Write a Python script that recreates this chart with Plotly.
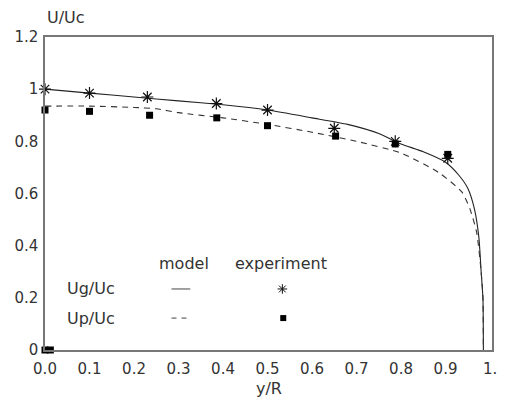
import plotly.graph_objects as go

# model curves
ug_model_x = [0.0, 0.1, 0.2, 0.3, 0.4, 0.5, 0.6, 0.68, 0.75, 0.8, 0.85, 0.9, 0.93, 0.95, 0.965, 0.975, 0.98, 0.984, 0.985]
ug_model_y = [1.0, 0.985, 0.97, 0.955, 0.94, 0.92, 0.89, 0.865, 0.83, 0.79, 0.76, 0.72, 0.67, 0.62, 0.54, 0.43, 0.3, 0.2, 0.0]
up_model_x = [0.0, 0.1, 0.2, 0.25, 0.3, 0.4, 0.5, 0.6, 0.7, 0.8, 0.885, 0.937, 0.955, 0.97, 0.98, 0.984, 0.985]
up_model_y = [0.935, 0.935, 0.93, 0.925, 0.91, 0.89, 0.865, 0.835, 0.80, 0.755, 0.68, 0.605, 0.54, 0.45, 0.3, 0.2, 0.0]

# experiments
ug_exp_x = [0.0, 0.1, 0.23, 0.385, 0.5, 0.65, 0.787, 0.905]
ug_exp_y = [1.0, 0.985, 0.97, 0.945, 0.92, 0.85, 0.80, 0.735]
up_exp_x = [0.0, 0.1, 0.235, 0.386, 0.5, 0.653, 0.787, 0.905, 0.0, 0.012]
up_exp_y = [0.92, 0.915, 0.90, 0.89, 0.86, 0.82, 0.79, 0.75, 0.0, 0.0]

x_tickvals = [0.0, 0.1, 0.2, 0.3, 0.4, 0.5, 0.6, 0.7, 0.8, 0.9, 1.0]
x_ticktext = ["0.0", "0.1", "0.2", "0.3", "0.4", "0.5", "0.6", "0.7", "0.8", "0.9", "1."]
y_tickvals = [0, 0.2, 0.4, 0.6, 0.8, 1.0, 1.2]
y_ticktext = ["0", "0.2", "0.4", "0.6", "0.8", "1", "1.2"]

FONT = "DejaVu Sans, sans-serif"
TXT = "#333333"
AX = "#777777"

fig = go.Figure()
fig.add_trace(go.Scatter(x=ug_model_x, y=ug_model_y, mode="lines",
                         line=dict(color="#222222", width=1.1, shape="spline", smoothing=0.6)))
fig.add_trace(go.Scatter(x=up_model_x, y=up_model_y, mode="lines",
                         line=dict(color="#333333", width=1.1, dash="6px,5px", shape="spline", smoothing=0.6)))
fig.add_trace(go.Scatter(x=ug_exp_x, y=ug_exp_y, mode="markers", cliponaxis=False,
                         marker=dict(symbol="asterisk-open", size=10, color="#111111",
                                     line=dict(color="#111111", width=1.2))))
fig.add_trace(go.Scatter(x=up_exp_x, y=up_exp_y, mode="markers", cliponaxis=False,
                         marker=dict(symbol="square", size=7, color="#000000", line=dict(width=0))))

# legend samples on an overlay axis spanning the plot area
fig.add_trace(go.Scatter(x=[0.531], y=[0.195], xaxis="x2", yaxis="y2", mode="markers",
                         marker=dict(symbol="asterisk-open", size=8, color="#111111",
                                     line=dict(color="#111111", width=1))))
fig.add_trace(go.Scatter(x=[0.533], y=[0.102], xaxis="x2", yaxis="y2", mode="markers",
                         marker=dict(symbol="square", size=6, color="#000000", line=dict(width=0))))
fig.add_trace(go.Scatter(x=[0.283, 0.325], y=[0.195, 0.195], xaxis="x2", yaxis="y2", mode="lines",
                         line=dict(color="#444444", width=1)))
fig.add_trace(go.Scatter(x=[0.283, 0.327], y=[0.102, 0.102], xaxis="x2", yaxis="y2", mode="lines",
                         line=dict(color="#444444", width=1, dash="5px,5px")))

annots = [
    dict(text="model", x=0.312, y=0.275),
    dict(text="experiment", x=0.529, y=0.275),
    dict(text="Ug/Uc", x=0.102, y=0.195),
    dict(text="Up/Uc", x=0.102, y=0.102),
]
for a in annots:
    fig.add_annotation(xref="x2", yref="y2", showarrow=False, xanchor="center", yanchor="middle",
                       font=dict(family=FONT, size=16, color=TXT), **a)

fig.add_annotation(xref="paper", yref="paper", x=0.0, y=1.062, text="U/Uc", showarrow=False,
                   xanchor="left", yanchor="middle", font=dict(family=FONT, size=16, color=TXT))
fig.add_annotation(xref="paper", yref="paper", x=0.5, y=-0.122, text="y/R", showarrow=False,
                   xanchor="center", yanchor="middle", font=dict(family=FONT, size=16, color=TXT))

fig.update_layout(
    width=506, height=404,
    margin=dict(l=45, r=9, t=37, b=54),
    paper_bgcolor="white", plot_bgcolor="white",
    showlegend=False,
    xaxis=dict(range=[0, 1.0044], tickvals=x_tickvals, ticktext=x_ticktext, showgrid=False,
               zeroline=False, showline=True, linecolor=AX, linewidth=1.5, mirror=True,
               ticks="", ticklabelstandoff=4, tickfont=dict(family=FONT, size=15, color=TXT)),
    yaxis=dict(range=[0, 1.2], tickvals=y_tickvals, ticktext=y_ticktext, showgrid=False,
               zeroline=False, showline=True, linecolor=AX, linewidth=1.5, mirror=True,
               ticks="", ticklabelstandoff=2, tickfont=dict(family=FONT, size=15, color=TXT)),
    xaxis2=dict(range=[0, 1], overlaying="x", visible=False),
    yaxis2=dict(range=[0, 1], overlaying="y", visible=False),
)

fig.write_html("out.html")
